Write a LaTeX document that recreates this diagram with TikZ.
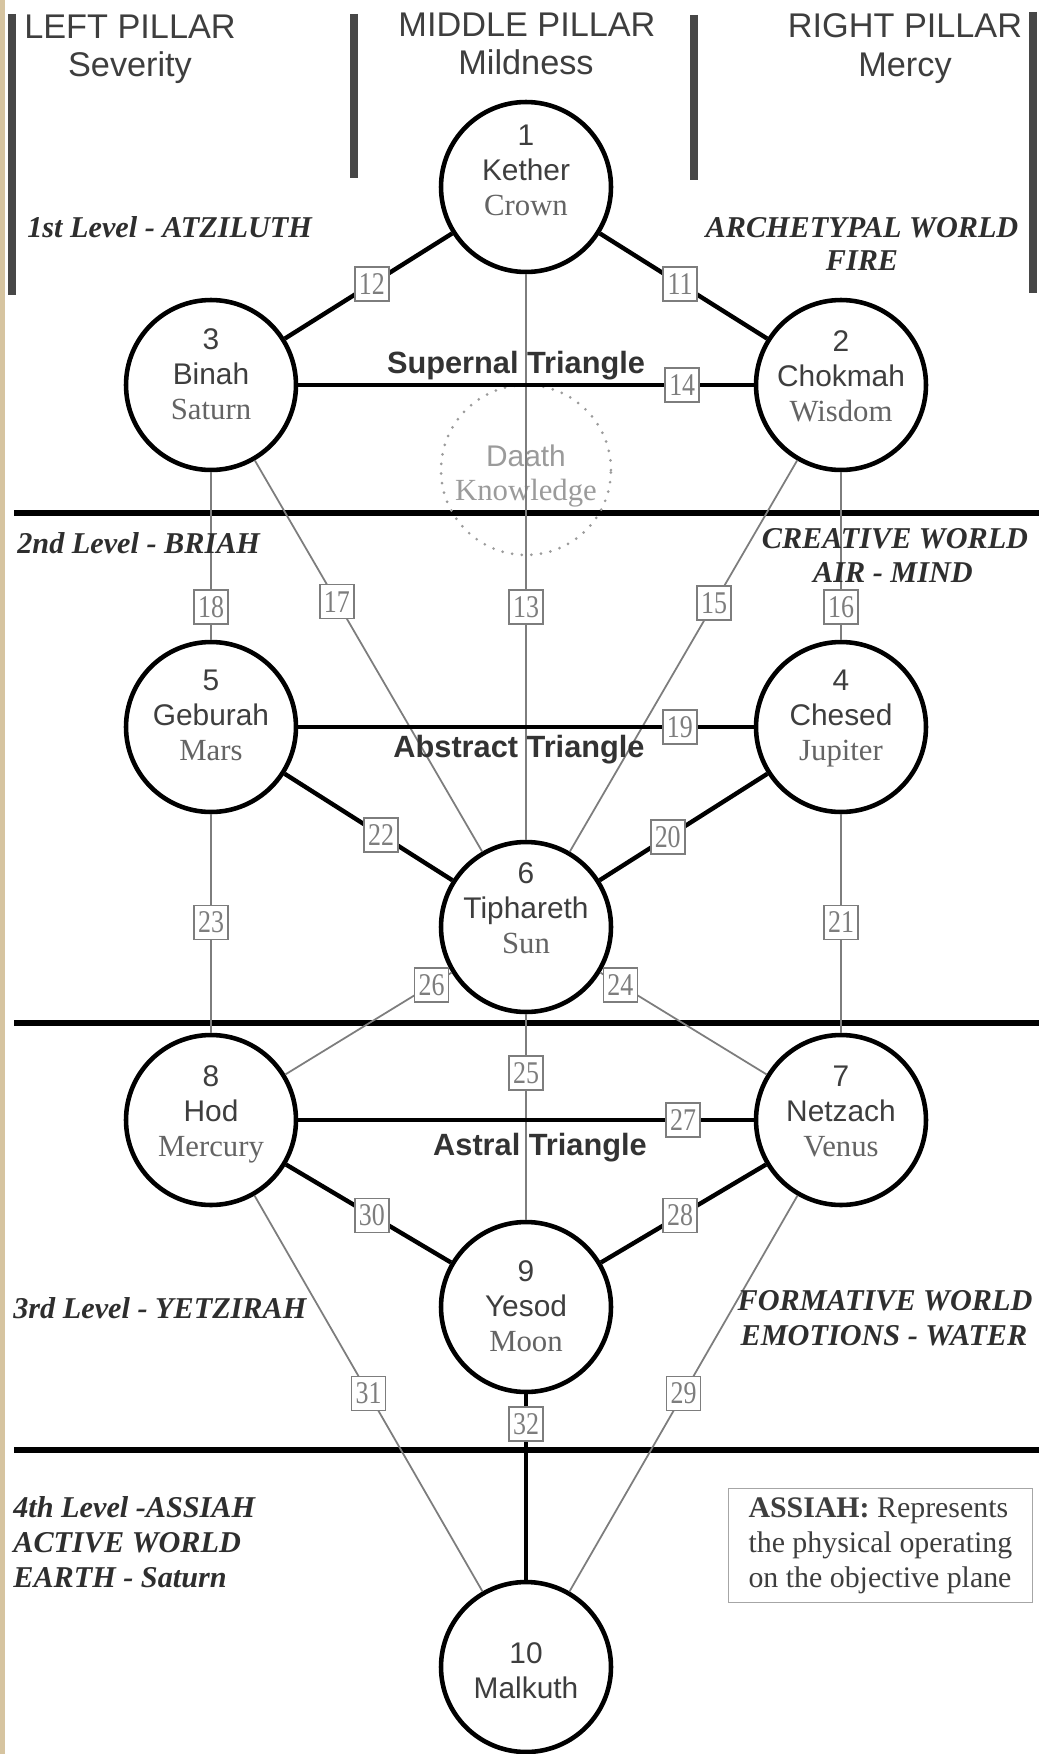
\documentclass[tikz,border=0pt]{standalone}
\usepackage{fontspec}
\setmainfont{Liberation Serif}
\setsansfont{Liberation Sans}
\newfontfamily\pathnumfont{Liberation Serif}[FakeStretch=0.82]
\usepackage{tikz}

\definecolor{tanstrip}{RGB}{214,196,160}
\definecolor{inkgray}{RGB}{62,62,62}
\definecolor{planetgray}{RGB}{100,100,100}
\definecolor{pathgray}{RGB}{125,125,125}
\definecolor{daathgray}{RGB}{155,155,155}

\begin{document}
\begin{tikzpicture}[x=0.02cm,y=-0.02cm,
		sephira/.style={circle,draw=black,line width=2.6pt,minimum size=3.4cm,inner sep=0pt},
		daath/.style={circle,draw=daathgray,line width=1.7pt,line cap=round,dash pattern=on 0pt off 5.5pt,minimum size=3.4cm,inner sep=0pt},
		sephnum/.style={font=\sffamily\fontsize{17}{20}\selectfont,text=inkgray,text height=12pt,text depth=0pt,inner sep=0pt},
		sephname/.style={sephnum},
		sephplanet/.style={font=\rmfamily\fontsize{17.5}{20}\selectfont,text=planetgray,text height=11.5pt,text depth=0pt,inner sep=0pt},
		pathbox/.style={draw=pathgray,line width=0.9pt,fill=white,text=pathgray,font=\pathnumfont\fontsize{18}{18}\selectfont,minimum size=0.68cm,inner sep=0pt},
		strongpath/.style={draw=black,line width=2.5pt},
		thinpath/.style={draw=pathgray,line width=1pt},
		levelline/.style={draw=black,line width=3.4pt},
		pillarbar/.style={draw=black!72,line width=4.5pt},
		pillarhead/.style={font=\sffamily\fontsize{19.5}{22}\selectfont,text=inkgray,text height=14pt,text depth=0pt,inner sep=0pt},
		triangletext/.style={font=\sffamily\bfseries\fontsize{17.5}{20}\selectfont,text=black!80,text height=12.5pt,text depth=0pt,inner sep=0pt},
		leveltext/.style={font=\rmfamily\bfseries\itshape\fontsize{17.2}{19}\selectfont,text=black!82,text height=11.4pt,text depth=0pt,inner sep=0pt},
		assiahbox/.style={draw=black!35,line width=0.6pt,align=left,inner xsep=0.4cm,inner ysep=0.18cm,font=\rmfamily\fontsize{17}{20}\selectfont,text=inkgray}]
		\useasboundingbox (0,0) rectangle (1038,1754);
		\fill[white] (0,0) rectangle (1038,1754);
		\fill[tanstrip] (0,0) rectangle (5,1754);
		% pillar bars
		\foreach \bx/\btop/\bbot in {12/14/295,354/14/178,694/15/180,1033/12/293}
		\draw[pillarbar] (\bx,\btop) -- (\bx,\bbot);
		% level lines
		\foreach \ly [count=\i] in {513,1023,1450}
		{
			\coordinate (lvl\i w) at (14,\ly);
			\coordinate (lvl\i e) at (1040,\ly);
			\draw[levelline] (lvl\i w) -- (lvl\i e);
		}
		% pillar headings
		\node[pillarhead] (lefthead) at (130,26) {LEFT PILLAR};
		\node[pillarhead] (leftsub) at (130,64) {Severity};
		\node[pillarhead] (middlehead) at (527,24) {MIDDLE PILLAR};
		\node[pillarhead] (middlesub) at (526,62) {Mildness};
		\node[pillarhead] (righthead) at (905,25) {RIGHT PILLAR};
		\node[pillarhead] (rightsub) at (905,64) {Mercy};
		% sephiroth
		\foreach \nm/\x/\y/\ty/\snum/\sname/\splanet in {
			kether/526/187/170/1/Kether/Crown,
			chokmah/841/385/376/2/Chokmah/Wisdom,
			binah/211/385/374/3/Binah/Saturn,
			chesed/841/727/715/4/Chesed/Jupiter,
			geburah/211/727/715/5/Geburah/Mars,
			tiphareth/526/927/908/6/Tiphareth/Sun,
			netzach/841/1120/1111/7/Netzach/Venus,
			hod/211/1120/1111/8/Hod/Mercury,
			yesod/526/1307/1306/9/Yesod/Moon}
		{
			\node[sephira] (\nm) at (\x,\y) {};
			\node[sephnum] (\nm-num) at (\x,\ty-35) {\snum};
			\node[sephname] (\nm-name) at (\x,\ty) {\sname};
			\node[sephplanet] (\nm-planet) at (\x,\ty+35) {\splanet};
		}
		\node[sephira] (malkuth) at (526,1667) {};
		\node[sephnum] (malkuth-num) at (526,1653) {10};
		\node[sephname] (malkuth-name) at (526,1688) {Malkuth};
		\node[daath] (daath) at (526,470) {};
		\node[sephname,text=daathgray] (daath-name) at (526,456) {Daath};
		\node[sephplanet,text=daathgray] (daath-planet) at (526,490) {Knowledge};
		% paths
		\foreach \a/\b/\pnum/\p/\sty in {
			kether/chokmah/11/.48/strongpath,
			kether/binah/12/.48/strongpath,
			kether/tiphareth/13/.588/thinpath,
			binah/chokmah/14/.843/strongpath,
			chokmah/tiphareth/15/.365/thinpath,
			chokmah/chesed/16/.805/thinpath,
			binah/tiphareth/17/.361/thinpath,
			binah/geburah/18/.805/thinpath,
			geburah/chesed/19/.838/strongpath,
			chesed/tiphareth/20/.594/strongpath,
			chesed/netzach/21/.495/thinpath,
			geburah/tiphareth/22/.575/strongpath,
			geburah/hod/23/.495/thinpath,
			tiphareth/netzach/24/.12/thinpath,
			tiphareth/yesod/25/.285/thinpath,
			tiphareth/hod/26/.12/thinpath,
			hod/netzach/27/.845/strongpath,
			netzach/yesod/28/.52/strongpath,
			netzach/malkuth/29/.50/thinpath,
			hod/yesod/30/.52/strongpath,
			hod/malkuth/31/.50/thinpath,
			yesod/malkuth/32/.16/strongpath}
		\draw[\sty] (\a) -- node[pathbox,pos=\p] (path\pnum) {\pnum} (\b);
		% triangles
		\node[triangletext] (supernal) at (516,363) {Supernal Triangle};
		\node[triangletext] (abstract) at (519,747) {Abstract Triangle};
		\node[triangletext] (astral) at (540,1145) {Astral Triangle};
		% levels
		\node[leveltext,anchor=west] (atziluth) at (27,227) {1st Level - ATZILUTH};
		\node[leveltext] (archetypal) at (862,227) {ARCHETYPAL WORLD};
		\node[leveltext] (fire) at (862,260) {FIRE};
		\node[leveltext,anchor=west] (briah) at (17,543) {2nd Level - BRIAH};
		\node[leveltext] (creative) at (895,538) {CREATIVE WORLD};
		\node[leveltext] (airmind) at (893,572) {AIR - MIND};
		\node[leveltext,anchor=west] (yetzirah) at (13,1308) {3rd Level - YETZIRAH};
		\node[leveltext] (formative) at (885,1300) {FORMATIVE WORLD};
		\node[leveltext] (emotions) at (884,1335) {EMOTIONS - WATER};
		\node[leveltext,anchor=west] (assiah) at (13,1507) {4th Level -ASSIAH};
		\node[leveltext,anchor=west] (active) at (13,1542) {ACTIVE WORLD};
		\node[leveltext,anchor=west] (earth) at (13,1577) {EARTH - Saturn};
		\node[assiahbox,anchor=north west] (assiahnote) at (728,1488) {\textbf{ASSIAH:} Represents\\the physical operating\\on the objective plane};
	\end{tikzpicture}
\end{document}
